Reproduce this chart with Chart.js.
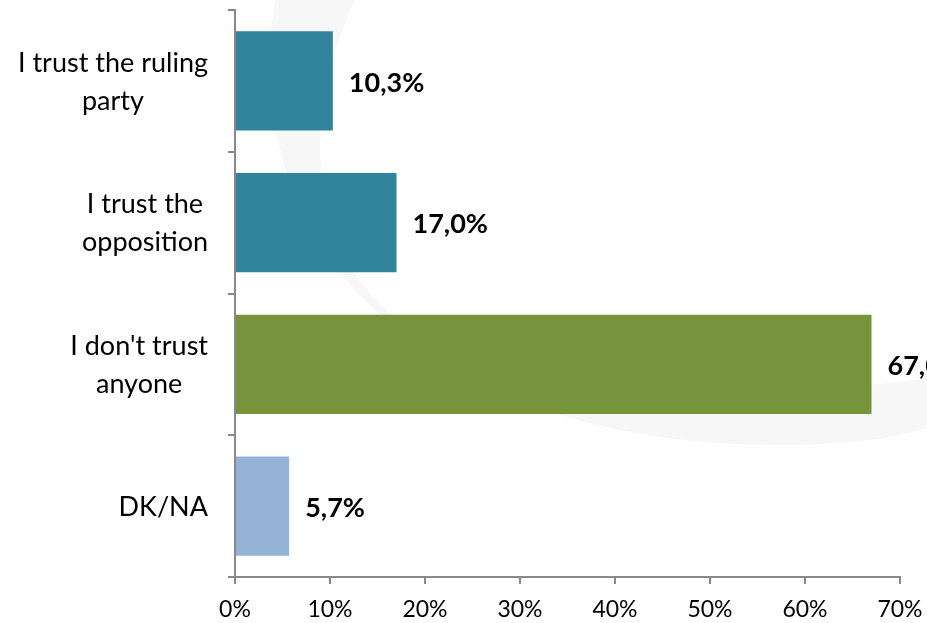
<!DOCTYPE html>
<html>
<head>
<meta charset="utf-8">
<script src="https://cdn.jsdelivr.net/npm/chart.js@4"></script>
<style>
  html, body { margin: 0; padding: 0; background: #fff; }
  #wrap { width: 927px; height: 623px; position: relative; }
</style>
</head>
<body>
<div id="wrap"><canvas id="trustChart"></canvas></div>
<script>
// chart data
const categories = [
  ['I trust the ruling', 'party'],
  ['I trust the', 'opposition'],
  ["I don't trust", 'anyone'],
  ['DK/NA']
];
const values = [10.3, 17.0, 67.0, 5.7];
const barColors = ['#31849B', '#31849B', '#77933C', '#95B3D7'];
const tickValues = [0, 10, 20, 30, 40, 50, 60, 70];

const FONT = 'Lato, "Open Sans", sans-serif';
const AXIS_GREY = '#898989';

// faint crescent watermark behind the plot
const backdrop = {
  id: 'backdrop',
  beforeDraw(chart) {
    const ctx = chart.ctx;
    ctx.save();
    ctx.fillStyle = '#f7f7f7';
    ctx.beginPath();
    ctx.moveTo(275, 0);
    ctx.bezierCurveTo(235, 250, 430, 445, 780, 445);
    ctx.bezierCurveTo(850, 445, 900, 437, 927, 428);
    ctx.lineTo(927, 378);
    ctx.bezierCurveTo(800, 398, 600, 395, 460, 352);
    ctx.bezierCurveTo(320, 305, 285, 150, 355, 0);
    ctx.closePath();
    ctx.fill();
    ctx.restore();
  }
};

// category labels, centred lines in a right-aligned block
const categoryLabels = {
  id: 'categoryLabels',
  afterDraw(chart) {
    const ctx = chart.ctx;
    const yScale = chart.scales.y;
    const right = 208;
    const lineH = 38;
    ctx.save();
    ctx.font = '27px ' + FONT;
    ctx.fillStyle = '#000';
    ctx.textBaseline = 'middle';
    ctx.textAlign = 'center';
    categories.forEach((lines, i) => {
      const cy = yScale.getPixelForValue(i) + 1;
      const w = Math.max(...lines.map(l => ctx.measureText(l).width));
      const cx = right - w / 2;
      const y0 = cy - (lines.length - 1) * lineH / 2;
      lines.forEach((l, j) => ctx.fillText(l, cx, y0 + j * lineH));
    });
    ctx.restore();
  }
};

// bold value labels after each bar
const valueLabels = {
  id: 'valueLabels',
  afterDatasetsDraw(chart) {
    const ctx = chart.ctx;
    const meta = chart.getDatasetMeta(0);
    ctx.save();
    ctx.font = 'bold 27px ' + FONT;
    ctx.fillStyle = '#000';
    ctx.textBaseline = 'middle';
    ctx.textAlign = 'left';
    meta.data.forEach((bar, i) => {
      const txt = values[i].toFixed(1).replace('.', ',') + '%';
      ctx.fillText(txt, bar.x + 16, bar.y + 2);
    });
    ctx.restore();
  }
};

new Chart(document.getElementById('trustChart'), {
  type: 'bar',
  data: {
    labels: categories.map(c => c.join(' ')),
    datasets: [{
      data: values,
      backgroundColor: barColors,
      barPercentage: 0.7,
      categoryPercentage: 1.0
    }]
  },
  options: {
    indexAxis: 'y',
    responsive: true,
    maintainAspectRatio: false,
    animation: false,
    layout: { padding: { top: 10, right: 27, bottom: 0, left: 0 } },
    plugins: {
      legend: { display: false },
      tooltip: { enabled: false }
    },
    scales: {
      x: {
        min: 0,
        max: 70,
        afterBuildTicks(scale) {
          scale.ticks = tickValues.map(v => ({ value: v }));
        },
        afterFit(scale) {
          scale.height = 46;
          scale.paddingLeft = 0;
          scale.paddingRight = 0;
        },
        border: { display: true, color: AXIS_GREY, width: 2 },
        grid: {
          drawOnChartArea: false,
          drawTicks: true,
          tickLength: 7,
          color: AXIS_GREY,
          lineWidth: 2
        },
        ticks: {
          color: '#000',
          padding: 12,
          font: { family: FONT, size: 23 },
          callback: v => v + '%'
        }
      },
      y: {
        offset: true,
        border: { display: true, color: AXIS_GREY, width: 2 },
        grid: {
          offset: true,
          drawOnChartArea: false,
          drawTicks: true,
          tickLength: 7,
          color: AXIS_GREY,
          lineWidth: 2
        },
        ticks: { display: false },
        afterFit(scale) {
          scale.width = 235;
        }
      }
    }
  },
  plugins: [backdrop, categoryLabels, valueLabels]
});
</script>
</body>
</html>
